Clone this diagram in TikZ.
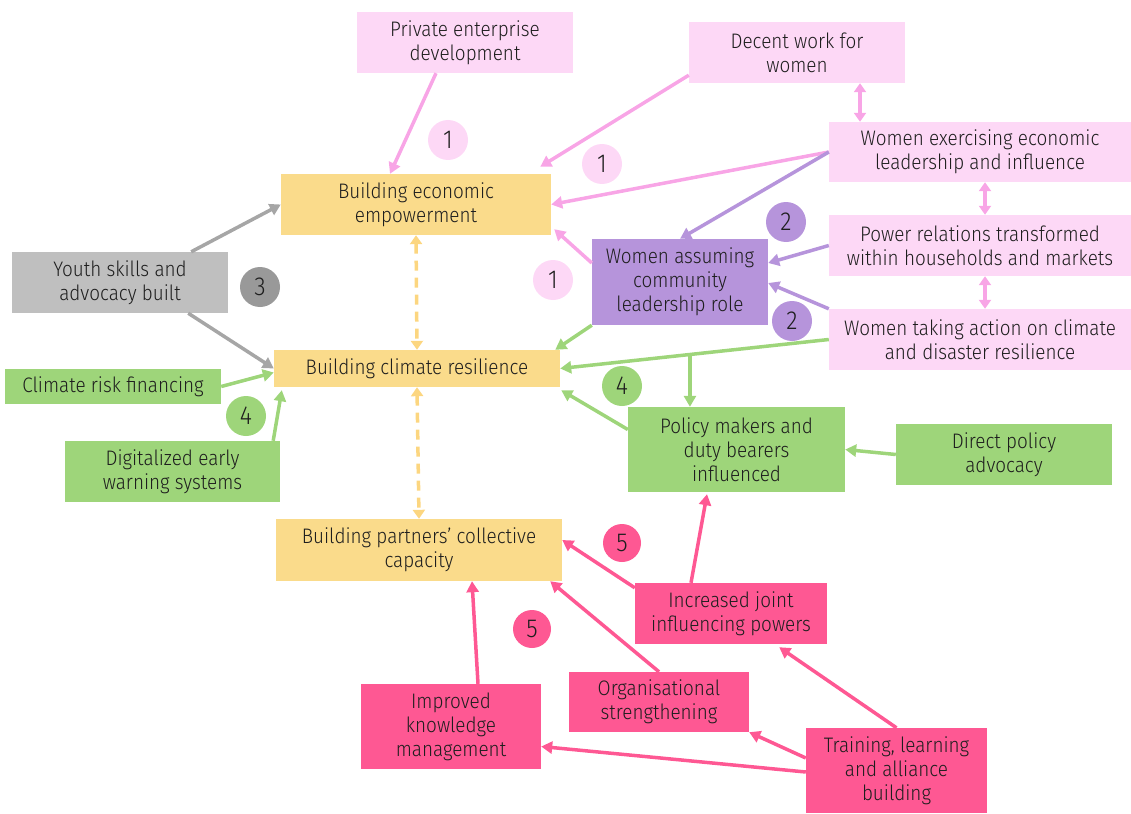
\documentclass[tikz,border=0pt]{standalone}
\usepackage{fontspec}
\setmainfont{Fira Sans Light}[FakeStretch=0.9]
\usetikzlibrary{arrows.meta,calc}

\definecolor{rosachiaro}{RGB}{253,216,246}
\definecolor{rosafreccia}{RGB}{248,165,230}
\definecolor{giallo}{RGB}{250,219,139}
\definecolor{gialloscuro}{RGB}{252,214,128}
\definecolor{viola}{RGB}{182,148,219}
\definecolor{grigio}{RGB}{191,191,191}
\definecolor{grigioscuro}{RGB}{166,166,166}
\definecolor{grigiobollo}{RGB}{153,153,153}
\definecolor{verde}{RGB}{158,213,122}
\definecolor{fucsia}{RGB}{254,88,147}
\definecolor{testo}{RGB}{30,30,30}

\begin{document}
\begin{tikzpicture}[x=1pt, y=-1pt,
    scatola/.style={align=center, inner sep=0pt, text=testo,
        font=\fontsize{21}{24}\selectfont},
    bollo/.style={circle, minimum size=40pt, inner sep=0pt, text=testo,
        font=\fontsize{26}{26}\selectfont},
    freccia/.style={line width=3.5pt, -{Triangle[length=11pt,width=12pt]}},
    doppia/.style={line width=3.5pt, {Triangle[length=9pt,width=12pt]}-{Triangle[length=9pt,width=12pt]}},
    tratteggio/.style={doppia, draw=gialloscuro, dash pattern=on 10pt off 7pt}]
        \useasboundingbox (0,0) rectangle (1131,813);

        % Risultati principali
        \node[scatola, fill=giallo, minimum width=270pt, minimum height=61pt] (econ) at (416,204.5) {Building economic\\empowerment};
        \node[scatola, fill=giallo, minimum width=286pt, minimum height=37pt] (clima) at (417,368.5) {Building climate resilience};
        \node[scatola, fill=giallo, minimum width=286pt, minimum height=62pt] (partner) at (419,550) {Building partners’ collective\\capacity};

        % Obiettivi delle donne
        \node[scatola, fill=rosachiaro, minimum width=216pt, minimum height=61pt] (impresa) at (465,42.5) {Private enterprise\\development};
        \node[scatola, fill=rosachiaro, minimum width=216pt, minimum height=61pt] (lavoro) at (797,52.5) {Decent work for\\women};
        \node[scatola, fill=rosachiaro, minimum width=302pt, minimum height=60pt] (guida) at (980,152) {Women exercising economic\\leadership and influence};
        \node[scatola, fill=rosachiaro, minimum width=302pt, minimum height=61pt] (potere) at (980,245.5) {Power relations transformed\\within households and markets};
        \node[scatola, fill=rosachiaro, minimum width=302pt, minimum height=61pt] (azione) at (980,339.5) {Women taking action on climate\\and disaster resilience};
        \node[scatola, fill=viola, minimum width=176pt, minimum height=86pt] (comunita) at (680,282) {Women assuming\\community\\leadership role};

        % Giovani e clima
        \node[scatola, fill=grigio, minimum width=216pt, minimum height=61pt] (giovani) at (120,282.5) {Youth skills and\\advocacy built};
        \node[scatola, fill=verde, minimum width=216pt, minimum height=35pt] (rischio) at (113,386.5) {Climate risk financing};
        \node[scatola, fill=verde, minimum width=215pt, minimum height=61pt] (allerta) at (172.5,471.5) {Digitalized early\\warning systems};
        \node[scatola, fill=verde, minimum width=217pt, minimum height=85pt] (politica) at (736.5,449.5) {Policy makers and\\duty bearers\\influenced};
        \node[scatola, fill=verde, minimum width=216pt, minimum height=61pt] (advocacy) at (1004,454.5) {Direct policy\\advocacy};

        % Capacita dei partner
        \node[scatola, fill=fucsia, minimum width=192pt, minimum height=61pt] (influenza) at (731,613.5) {Increased joint\\influencing powers};
        \node[scatola, fill=fucsia, minimum width=180pt, minimum height=85pt] (conoscenza) at (451,726.5) {Improved\\knowledge\\management};
        \node[scatola, fill=fucsia, minimum width=180pt, minimum height=60pt] (organizza) at (659,702) {Organisational\\strengthening};
        \node[scatola, fill=fucsia, minimum width=181pt, minimum height=85pt] (formazione) at (896.5,770.5) {Training, learning\\and alliance\\building};

        % Numeri
        \node[bollo, fill=rosachiaro] (uno a) at (448,140) {1};
        \node[bollo, fill=rosachiaro] (uno b) at (602,164) {1};
        \node[bollo, fill=rosachiaro] (uno c) at (553,280) {1};
        \node[bollo, fill=viola] (due a) at (786,222) {2};
        \node[bollo, fill=viola] (due b) at (792,321) {2};
        \node[bollo, fill=grigiobollo] (tre) at (260,287) {3};
        \node[bollo, fill=verde] (quattro a) at (246,416) {4};
        \node[bollo, fill=verde] (quattro b) at (622,386) {4};
        \node[bollo, fill=fucsia, minimum size=38pt] (cinque a) at (622,543) {5};
        \node[bollo, fill=fucsia, minimum size=38pt] (cinque b) at (532,629) {5};

        % Frecce rosa
        \draw[freccia, rosafreccia] ([xshift=-29pt]impresa.south) -- ([xshift=-26pt]econ.north);
        \draw[freccia, rosafreccia] ([yshift=8pt]lavoro.south west) -- ([xshift=-11pt,yshift=7pt]econ.north east);
        \draw[freccia, rosafreccia] (guida.west) -- (econ.east);
        \draw[freccia, rosafreccia] ([yshift=19pt]comunita.west) -- ([xshift=3pt,yshift=6pt]econ.south east);
        \draw[doppia, rosafreccia] ([xshift=63pt]lavoro.south) -- ([xshift=-120pt]guida.north);
        \draw[doppia, rosafreccia] ([xshift=5pt]guida.south) -- ([xshift=5pt]potere.north);
        \draw[doppia, rosafreccia] ([xshift=5pt]potere.south) -- ([xshift=5pt]azione.north);

        % Frecce viola
        \draw[freccia, viola] (guida.west) -- (comunita.north);
        \draw[freccia, viola] (potere.west) -- ([yshift=19pt]comunita.east);
        \draw[freccia, viola] (azione.north west) -- ([yshift=-1pt]comunita.east);

        % Frecce grigie
        \draw[freccia, grigioscuro] ([xshift=-37pt]giovani.north east) -- (econ.west);
        \draw[freccia, grigioscuro] ([xshift=-40pt]giovani.south east) -- (clima.west);

        % Frecce verdi
        \draw[freccia, verde] (rischio.east) -- ([yshift=-4pt]clima.west);
        \draw[freccia, verde] ([xshift=-7pt]allerta.north east) -- ([xshift=8pt,yshift=-3pt]clima.south west);
        \draw[freccia, verde] (comunita.south west) -- ([xshift=-5pt]clima.north east);
        \draw[freccia, verde] (azione.west) -- (clima.east);
        \coordinate (ramo) at ($(azione.west)!0.517!(clima.east)$);
        \draw[freccia, verde] (ramo) -- (ramo |- politica.north);
        \draw[freccia, verde] ([yshift=20pt]politica.west) -- ([xshift=1pt,yshift=-3pt]clima.south east);
        \draw[freccia, verde] (advocacy.west) -- (politica.east);

        % Frecce tratteggiate
        \draw[tratteggio] (econ.south) -- (clima.north);
        \draw[tratteggio] (clima.south) -- (partner.north);

        % Frecce fucsia
        \draw[freccia, fucsia] ([xshift=-40pt]influenza.north) -- ([xshift=-29.5pt,yshift=-2pt]politica.south);
        \draw[freccia, fucsia] ([yshift=-5pt]influenza.north west) -- ([yshift=10pt]partner.east);
        \draw[freccia, fucsia] ([xshift=27pt]conoscenza.north) -- ([xshift=53pt]partner.south);
        \draw[freccia, fucsia] (organizza.north) -- ([xshift=-12pt]partner.south east);
        \draw[freccia, fucsia] ([yshift=12.5pt]formazione.west) -- (organizza.south east);
        \draw[freccia, fucsia] ([yshift=-1.5pt]formazione.west) -- ([yshift=-20pt]conoscenza.east);
        \draw[freccia, fucsia] (formazione.north) -- ([xshift=-48pt,yshift=-3pt]influenza.south east);
    \end{tikzpicture}
\end{document}
